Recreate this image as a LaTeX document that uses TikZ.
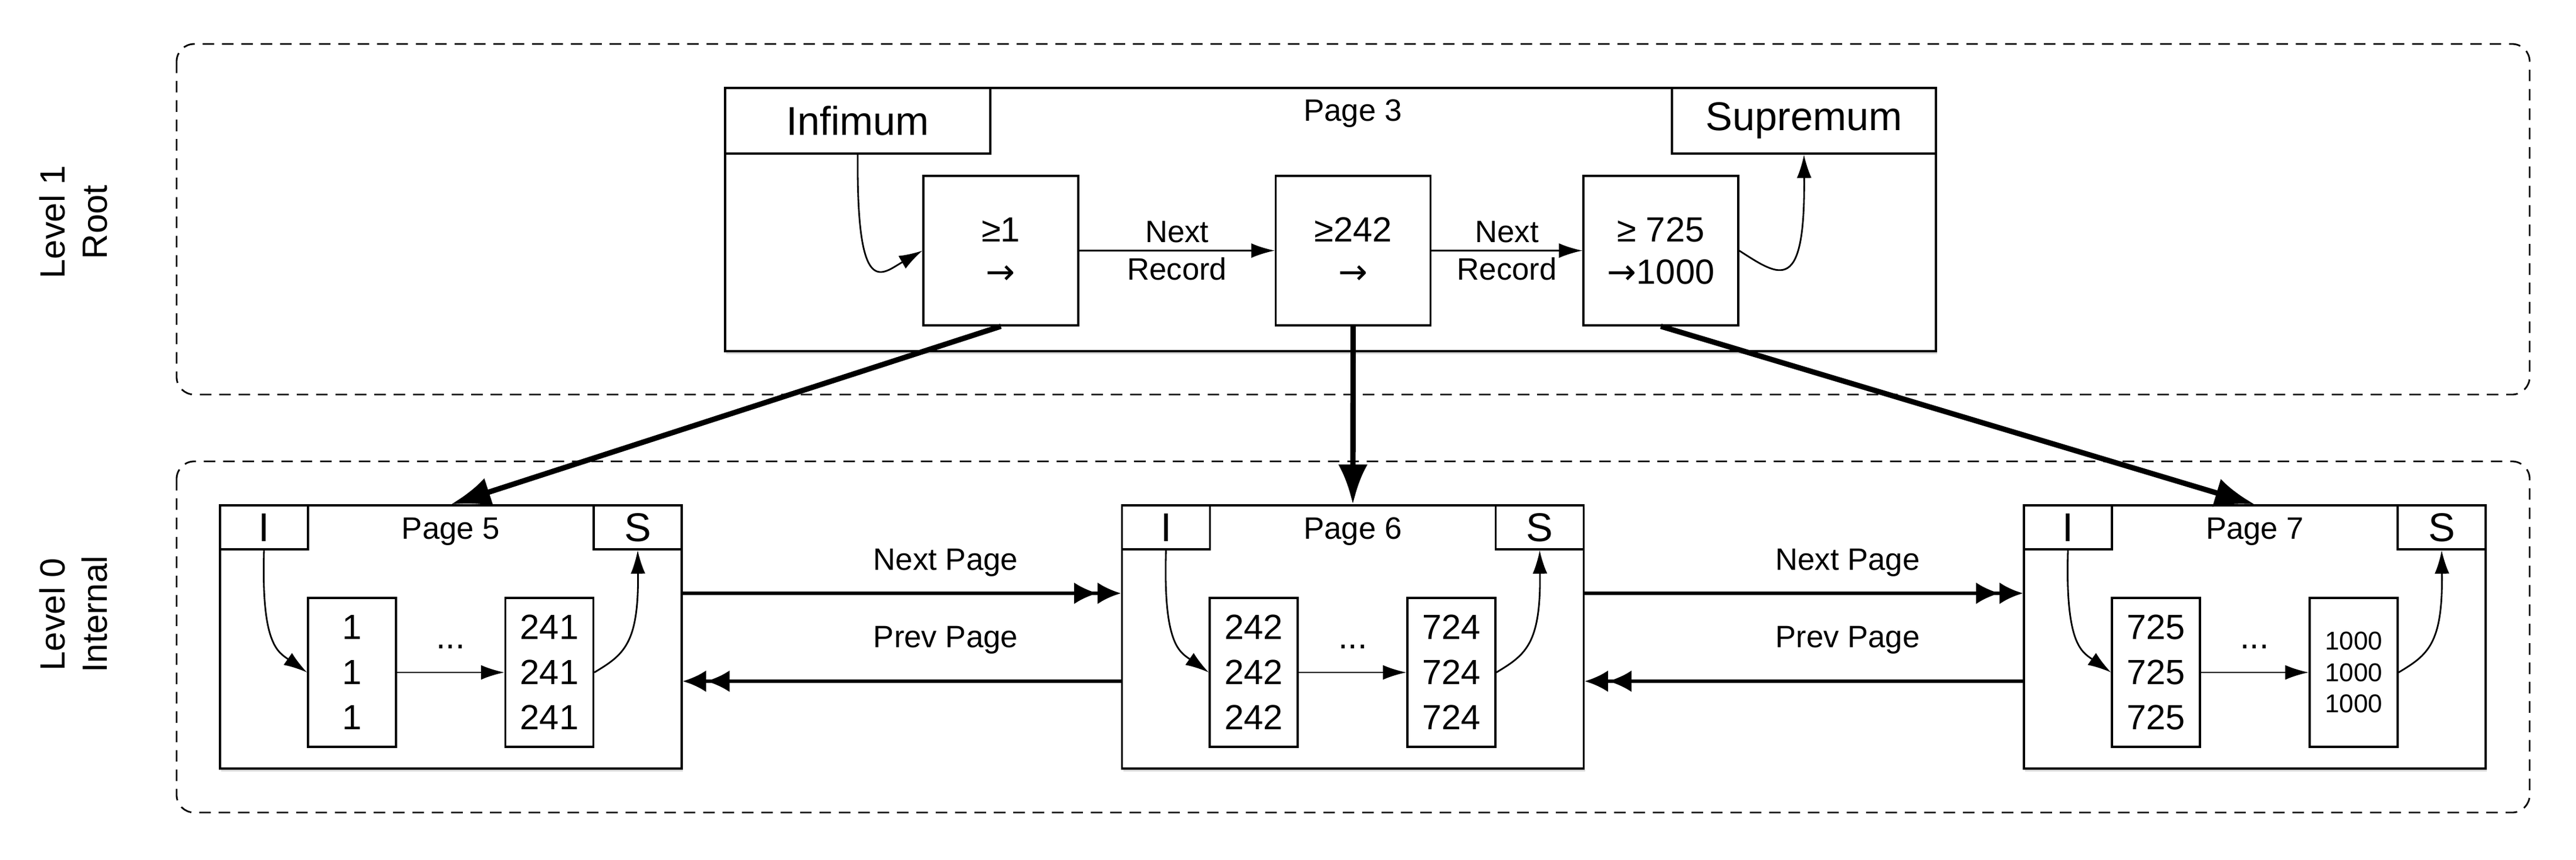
\documentclass[tikz,border=0pt]{standalone}
\usepackage{fontspec}
\setmainfont{Liberation Sans}
\newfontfamily\arrowfont{DejaVu Sans}
\newcommand{\rarr}{{\arrowfont →}}
\usetikzlibrary{arrows.meta, positioning, calc, shadows}

\begin{document}
\begin{tikzpicture}[
    levelbox/.style={dash pattern=on 5.6pt off 3.8pt, line width=0.8pt, rounded corners=0.3cm},
    levellabel/.style={rotate=90, align=center, font=\fontsize{17}{20.5}\selectfont},
    page/.style={rectangle, draw, line width=0.9pt, fill=white, minimum width=7.87cm, minimum height=4.49cm, inner sep=0pt, drop shadow={opacity=0.3, shadow xshift=0.02cm, shadow yshift=-0.05cm}},
    cornerbox/.style={rectangle, draw, line width=0.9pt, minimum width=1.5cm, minimum height=0.75cm, inner sep=0pt, font=\fontsize{19.5}{23}\selectfont},
    recbox/.style={rectangle, draw, line width=0.9pt, minimum width=1.5cm, minimum height=2.54cm, align=center, inner sep=0pt, font=\fontsize{17}{21.9}\selectfont},
    keybox/.style={rectangle, draw, line width=0.9pt, minimum width=2.64cm, minimum height=2.55cm, align=center, inner sep=0pt, font=\fontsize{17}{20.5}\selectfont},
    label/.style={font=\fontsize{15}{18}\selectfont, align=center},
    recarrow/.style={-{Latex[length=0.4cm, width=0.25cm]}, line width=0.8pt},
    downarrow/.style={-{Latex[length=0.68cm, width=0.5cm]}, line width=2.6pt},
    pagelink/.style={-{Latex[length=0.4cm, width=0.37cm]Latex[length=0.4cm, width=0.37cm]}, line width=1.6pt}
]
    \useasboundingbox (0,0) rectangle (43.91,-14.66);
    \draw[levelbox] (3.01,-0.75) rectangle (43.12,-6.73);
    \draw[levelbox] (3.01,-7.87) rectangle (43.12,-13.86);
    \node[levellabel] (lvl1) at (1.25,-3.79) {Level 1\\Root};
    \node[levellabel] (lvl0) at (1.25,-10.48) {Level 0\\Internal};

    \node[page, minimum width=20.64cm] (p3) at (22.68,-3.745) {};
    \node[cornerbox, anchor=north west, minimum width=4.52cm, minimum height=1.12cm] (inf) at (p3.north west) {Infimum};
    \node[cornerbox, anchor=north east, minimum width=4.5cm, minimum height=1.12cm] (sup) at (p3.north east) {Supremum};
    \node[label] (p3t) at (23.06,-1.94) {Page 3};
    \node[keybox] (ka) at (17.06,-4.275) {≥1\\\rarr};
    \node[keybox] (kb) at (23.065,-4.275) {≥242\\\rarr};
    \node[keybox] (kc) at (28.31,-4.275) {≥ 725\\\rarr1000};
    \draw[recarrow] (inf.south) .. controls +(-0.02,-2.5) and +(-0.7,-0.4) .. (ka.west);
    \draw[recarrow] (ka) -- node[label] {Next\\Record} (kb);
    \draw[recarrow] (kb) -- node[label] {Next\\Record} (kc);
    \draw[recarrow] (kc.east) .. controls +(0.7,-0.45) and +(0.02,-2.4) .. (sup.south);

    \node[page] (p5) at (7.685,-10.865) {};
    \node[cornerbox, anchor=north west] (i5) at (p5.north west) {I};
    \node[cornerbox, anchor=north east] (s5) at (p5.north east) {S};
    \node[label] (p5t) at (7.685,-9.07) {Page 5};
    \node[recbox] (r5a) at (6.00,-11.47) {1\\1\\1};
    \node[recbox] (r5b) at (9.365,-11.47) {241\\241\\241};
    \node[font=\fontsize{17}{20}\selectfont] (d5) at (7.68,-11.03) {...};
    \draw[recarrow] (i5.south) .. controls +(-0.05,-1.6) and +(-0.5,0.35) .. (r5a.west);
    \draw[recarrow] (r5a) -- (r5b);
    \draw[recarrow] (r5b.east) .. controls +(0.5,0.3) and +(0.02,-1.6) .. (s5.south);

    \node[page] (p6) at (23.06,-10.865) {};
    \node[cornerbox, anchor=north west] (i6) at (p6.north west) {I};
    \node[cornerbox, anchor=north east] (s6) at (p6.north east) {S};
    \node[label] (p6t) at (23.06,-9.07) {Page 6};
    \node[recbox] (r6a) at (21.37,-11.47) {242\\242\\242};
    \node[recbox] (r6b) at (24.74,-11.47) {724\\724\\724};
    \node[font=\fontsize{17}{20}\selectfont] (d6) at (23.06,-11.03) {...};
    \draw[recarrow] (i6.south) .. controls +(-0.05,-1.6) and +(-0.5,0.35) .. (r6a.west);
    \draw[recarrow] (r6a) -- (r6b);
    \draw[recarrow] (r6b.east) .. controls +(0.5,0.3) and +(0.02,-1.6) .. (s6.south);

    \node[page] (p7) at (38.435,-10.865) {};
    \node[cornerbox, anchor=north west] (i7) at (p7.north west) {I};
    \node[cornerbox, anchor=north east] (s7) at (p7.north east) {S};
    \node[label] (p7t) at (38.435,-9.07) {Page 7};
    \node[recbox] (r7a) at (36.75,-11.47) {725\\725\\725};
    \node[recbox, font=\fontsize{12.5}{15.3}\selectfont] (r7b) at (40.12,-11.47) {1000\\1000\\1000};
    \node[font=\fontsize{17}{20}\selectfont] (d7) at (38.43,-11.03) {...};
    \draw[recarrow] (i7.south) .. controls +(-0.05,-1.6) and +(-0.5,0.35) .. (r7a.west);
    \draw[recarrow] (r7a) -- (r7b);
    \draw[recarrow] (r7b.east) .. controls +(0.5,0.3) and +(0.02,-1.6) .. (s7.south);

    \draw[downarrow] (ka.south) -- (p5.north);
    \draw[downarrow] (kb.south) -- (p6.north);
    \draw[downarrow] (kc.south) -- (p7.north);

    \draw[pagelink] ([yshift=0.745cm]p5.east) -- node[label, pos=0.6, yshift=0.52cm] {Next Page} ([yshift=0.745cm]p6.west);
    \draw[pagelink] ([yshift=-0.755cm]p6.west) -- node[label, pos=0.4, yshift=0.70cm] {Prev Page} ([yshift=-0.755cm]p5.east);
    \draw[pagelink] ([yshift=0.745cm]p6.east) -- node[label, pos=0.6, yshift=0.52cm] {Next Page} ([yshift=0.745cm]p7.west);
    \draw[pagelink] ([yshift=-0.755cm]p7.west) -- node[label, pos=0.4, yshift=0.70cm] {Prev Page} ([yshift=-0.755cm]p6.east);
\end{tikzpicture}
\end{document}
